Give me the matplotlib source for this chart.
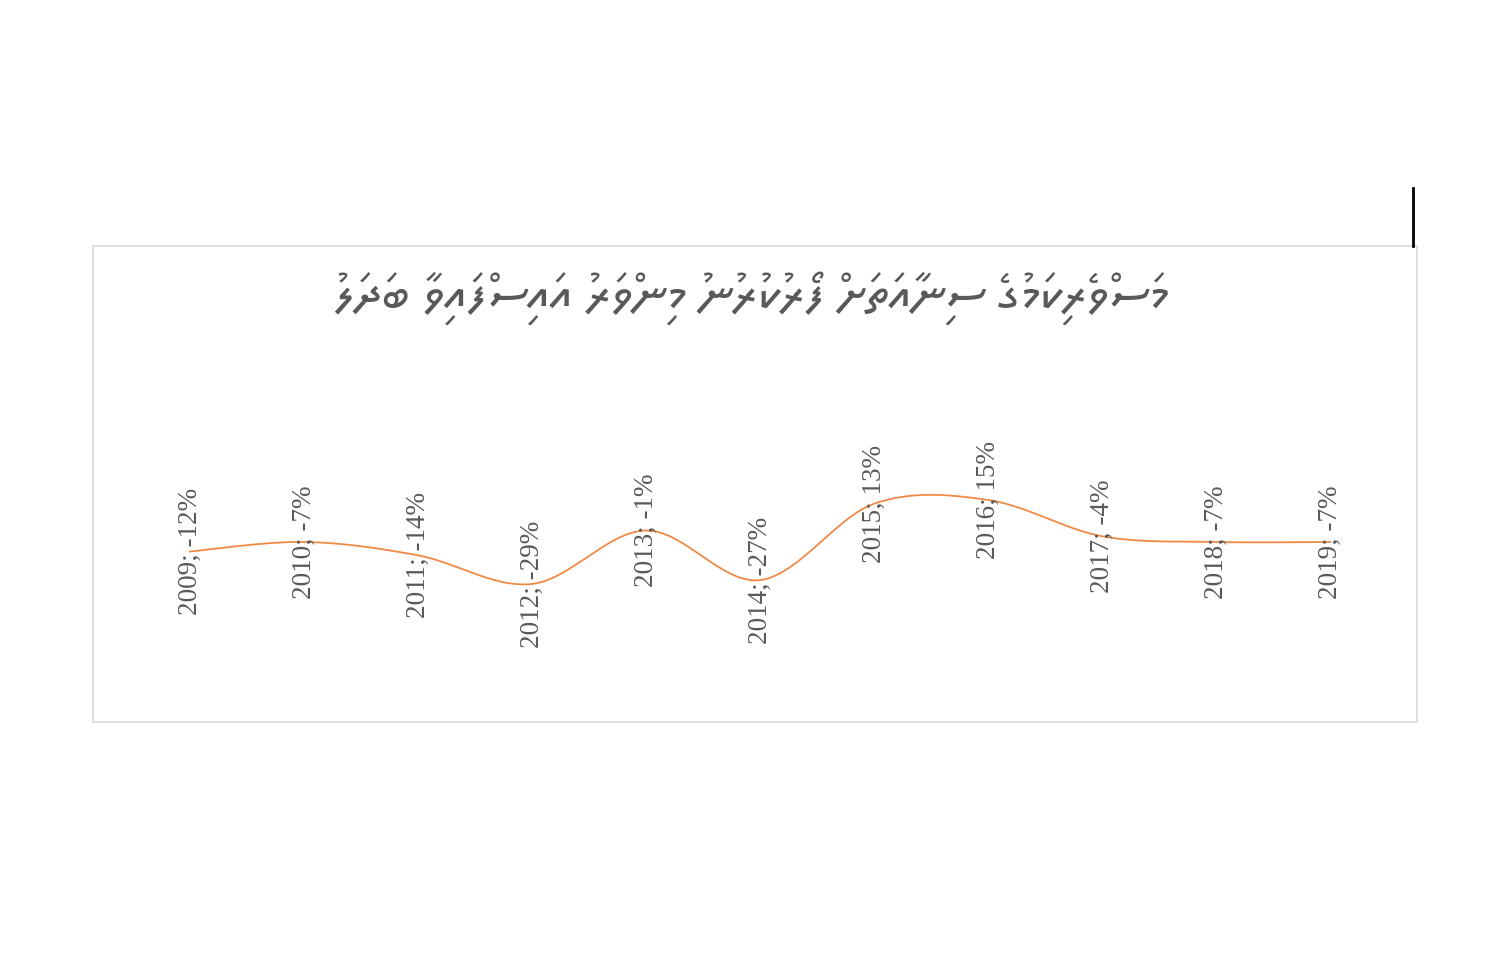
import matplotlib
matplotlib.use("Agg")
import numpy as np
import matplotlib.pyplot as plt
from matplotlib.patches import Rectangle
from matplotlib.lines import Line2D

# data
years = [2009, 2010, 2011, 2012, 2013, 2014, 2015, 2016, 2017, 2018, 2019]
change = [-12, -7, -14, -29, -1, -27, 13, 15, -4, -7, -7]
title = "މަސްވެރިކަމުގެ ސިނާއަތަށް ފޯރުކުރުނު މިންވަރު އައިސްފައިވާ ބަދަލު"

grey = "#595959"
orange = "#ED7D31"


def rtl(s):
    # matplotlib lays text out left to right: reverse the clusters and put
    # each vowel mark before its letter so it lands on top of it
    clusters = []
    for ch in s:
        if 0x07A6 <= ord(ch) <= 0x07B0 and clusters:
            clusters[-1] = ch + clusters[-1]
        else:
            clusters.append(ch)
    return "".join(reversed(clusters))


def smooth(x, y, n=30):
    # Excel style smoothed line (Catmull-Rom as cubic Bezier)
    x = np.asarray(x, float)
    y = np.asarray(y, float)
    px = np.concatenate([[x[0]], x, [x[-1]]])
    py = np.concatenate([[y[0]], y, [y[-1]]])
    xs, ys = [], []
    t = np.linspace(0, 1, n)
    for i in range(1, len(px) - 2):
        p0 = np.array([px[i], py[i]])
        p3 = np.array([px[i + 1], py[i + 1]])
        c1 = p0 + (np.array([px[i + 1], py[i + 1]]) - np.array([px[i - 1], py[i - 1]])) / 6
        c2 = p3 - (np.array([px[i + 2], py[i + 2]]) - np.array([px[i], py[i]])) / 6
        b = ((1 - t) ** 3)[:, None] * p0 + (3 * (1 - t) ** 2 * t)[:, None] * c1 \
            + (3 * (1 - t) * t ** 2)[:, None] * c2 + (t ** 3)[:, None] * p3
        xs.extend(b[:, 0])
        ys.extend(b[:, 1])
    return xs, ys


W, H = 1500, 966
fig = plt.figure(figsize=(15, 9.66), dpi=100)

# chart box
left, right, top, bottom = 93, 1417, 246, 722
box = [left / W, 1 - bottom / H, (right - left) / W, (bottom - top) / H]
fig.add_artist(Rectangle((box[0], box[1]), box[2], box[3], transform=fig.transFigure,
                         fill=False, edgecolor="#d9d9d9", linewidth=1.2))
# stray cursor mark above the box
fig.add_artist(Line2D([1413 / W, 1413 / W], [1 - 188 / H, 1 - 246 / H],
                      transform=fig.transFigure, color="black", linewidth=2))

ax = fig.add_axes(box)
ax.set_xlim(2008.149, 2019.763)
ax.set_ylim(-101.3, 148.0)
ax.axis("off")

sx, sy = smooth(years, change)
ax.plot(sx, sy, color=orange, linewidth=1.3, alpha=0.9)

for yr, v in zip(years, change):
    ax.text(yr, v, f"{yr}; {v}%", rotation=90, ha="center", va="center",
            fontsize=19.5, color=grey, family="Liberation Serif")

fig.text(751 / W, 1 - 298 / H, rtl(title), ha="center", va="center",
         fontsize=37, color=grey, family=["Noto Sans Thaana", "DejaVu Sans"])

fig.savefig("out.png", dpi=100)
